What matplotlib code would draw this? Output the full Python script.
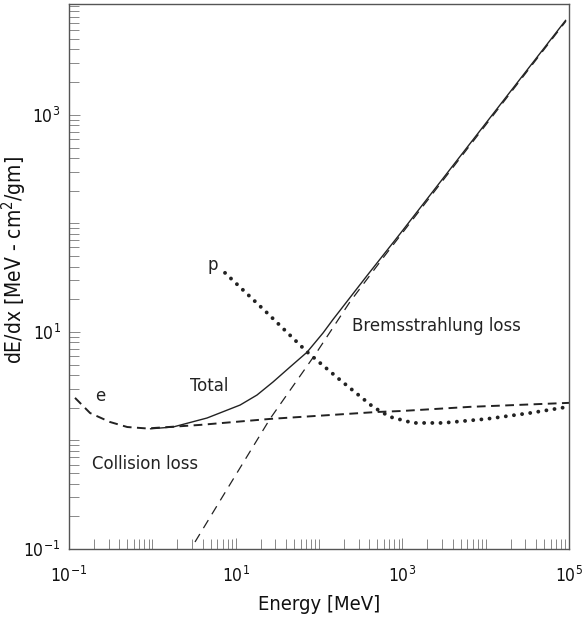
import matplotlib
matplotlib.use("Agg")
import matplotlib.pyplot as plt
from matplotlib.ticker import LogLocator, FixedLocator, FixedFormatter, NullFormatter

plt.rcParams['font.family'] = ['DejaVu Sans']
plt.rcParams['font.stretch'] = 'condensed'
plt.rcParams['mathtext.fontset'] = 'custom'
plt.rcParams['mathtext.rm'] = 'DejaVu Sans:stretch=condensed'
plt.rcParams['mathtext.it'] = 'DejaVu Sans:stretch=condensed'

# ---- data ----
total_E = [0.935, 1.77, 4.53, 11.3, 18.0, 28.1, 44.9, 71.8, 112, 147, 377, 937, 9.2e4]
total_y = [1.28, 1.33, 1.61, 2.12, 2.62, 3.46, 4.75, 6.5, 9.8, 13.0, 33, 80, 7500]

coll_E = [0.118, 0.179, 0.31, 0.50, 0.86, 3.7, 26, 500, 1000, 6500, 1.0e5]
coll_y = [2.47, 1.79, 1.48, 1.33, 1.29, 1.39, 1.58, 1.83, 1.87, 2.04, 2.22]

brem_E = [3.25, 10, 25.8, 94.6, 235, 586, 9.2e4]
brem_y = [0.116, 0.48, 1.58, 6.55, 18.9, 48, 7300]

prot_E = [7.45, 23.8, 71.8, 179, 445, 711, 1343, 3076, 10380, 34000, 97000]
prot_y = [35, 15.0, 6.55, 3.61, 2.04, 1.65, 1.45, 1.45, 1.58, 1.79, 2.04]

x_ticks = [1e-1, 1e1, 1e3, 1e5]
x_labels = [r'$10^{-1}$', r'$10^{1}$', r'$10^{3}$', r'$10^{5}$']
y_ticks = [1e-1, 1e1, 1e3]
y_labels = [r'$10^{-1}$', r'$10^{1}$', r'$10^{3}$']

fig = plt.figure(figsize=(5.82, 6.26), dpi=100)
ax = fig.add_axes([69/582, 77/626, 500/582, 545/626])
ax.set_xscale('log')
ax.set_yscale('log')
ax.set_xlim(0.1, 1e5)
ax.set_ylim(0.1, 1.05e4)

ink = '#222222'
ax.plot(total_E, total_y, color=ink, lw=1.0, solid_capstyle='butt')
ax.plot(coll_E, coll_y, color=ink, lw=1.4, ls=(0, (4.5, 2.8)))
ax.plot(brem_E, brem_y, color=ink, lw=0.9, ls=(0, (7.5, 5.5)))
ax.plot(prot_E, prot_y, color=ink, lw=2.8, ls=(0, (0.01, 2.1)), dash_capstyle='round')

for s in ax.spines.values():
    s.set_color('#555555')
    s.set_linewidth(1.0)

ax.xaxis.set_major_locator(FixedLocator(x_ticks))
ax.xaxis.set_major_formatter(FixedFormatter(x_labels))
ax.yaxis.set_major_locator(FixedLocator(y_ticks))
ax.yaxis.set_major_formatter(FixedFormatter(y_labels))
ax.xaxis.set_minor_locator(LogLocator(base=10, subs=list(range(1, 10)), numticks=50))
ax.yaxis.set_minor_locator(LogLocator(base=10, subs=list(range(1, 10)), numticks=50))
ax.xaxis.set_minor_formatter(NullFormatter())
ax.yaxis.set_minor_formatter(NullFormatter())
ax.tick_params(which='both', direction='in', top=False, right=False,
               color='#888888', width=0.7)
ax.tick_params(which='major', length=8, labelsize=12.5, pad=12, labelcolor='#111111')
ax.tick_params(which='minor', length=7)
ax.tick_params(axis='y', which='major', pad=6)

ax.set_xlabel('Energy [MeV]', fontsize=14.5, labelpad=7, color='#111111')
ax.set_ylabel('dE/dx [MeV - cm$^2$/gm]', fontsize=15, color='#111111')
ax.yaxis.set_label_coords(-0.08, 0.53)

tk = dict(fontsize=13.2, color='#222222', ha='center', va='center',
          transform=ax.transAxes)
ax.text(0.062, 0.280, 'e', **tk)
ax.text(0.280, 0.299, 'Total', **tk)
ax.text(0.152, 0.156, 'Collision loss', **tk)
ax.text(0.734, 0.409, 'Bremsstrahlung loss', **tk)
ax.text(0.288, 0.522, 'p', **tk)

fig.savefig('out.png', dpi=100)
